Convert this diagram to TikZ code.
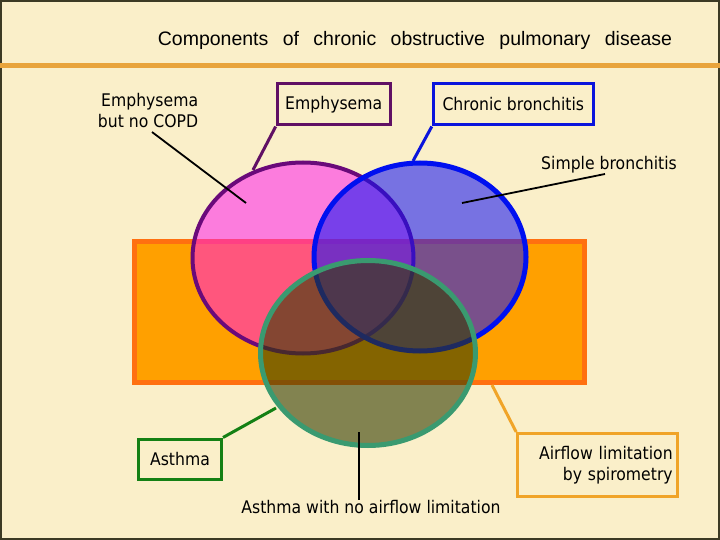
\documentclass[tikz,border=0pt]{standalone}
\usepackage{fontspec}
\setmainfont{DejaVu Sans}[FakeStretch=0.9]
\newfontfamily\titlefont{Liberation Sans}
\usetikzlibrary{shapes.geometric}
\definecolor{bgcream}{RGB}{250,239,201}
\definecolor{framecol}{RGB}{60,58,36}
\definecolor{rulecol}{RGB}{232,164,60}
\definecolor{airfill}{RGB}{255,160,0}
\definecolor{airdraw}{RGB}{255,112,16}
\definecolor{emphfill}{RGB}{255,20,240}
\definecolor{emphdraw}{RGB}{106,10,122}
\definecolor{bronfill}{RGB}{20,20,245}
\definecolor{brondraw}{RGB}{0,16,240}
\definecolor{asthfill}{RGB}{50,60,0}
\definecolor{asthdraw}{RGB}{58,154,112}
\definecolor{boxpurple}{RGB}{96,16,100}
\definecolor{boxblue}{RGB}{10,20,220}
\definecolor{boxgreen}{RGB}{20,128,20}
\definecolor{boxorange}{RGB}{240,164,40}
\tikzset{
  lab/.style={font=\fontsize{17.4}{21}\selectfont, inner sep=0pt, text=black},
  labbox/.style={lab, draw, line width=3pt, minimum height=41pt},
  blob/.style={ellipse, inner sep=0pt},
  lead/.style={black, line width=1.8pt},
}
\begin{document}
\begin{tikzpicture}[x=1pt,y=-1pt]
\useasboundingbox (0,0) rectangle (720,540);
\fill[bgcream] (0,0) rectangle (720,540);
\draw[framecol, line width=2pt] (1,1) rectangle (719,539);
\draw[rulecol, line width=5pt] (0,66) -- (720,66);
\node[font=\titlefont\fontsize{19.5}{22}\selectfont, inner sep=0pt] (title) at (415,40)
  {Components\hspace{9pt} of\hspace{9pt} chronic\hspace{9pt} obstructive\hspace{9pt} pulmonary\hspace{9pt} disease};

% shapes
\node[draw=airdraw, fill=airfill, line width=5pt, minimum width=450pt, minimum height=141pt, inner sep=0pt] (airflow) at (359.5,311.5) {};
\node[blob, draw=emphdraw, fill=emphfill, fill opacity=0.52, draw opacity=1, line width=4pt, minimum width=221pt, minimum height=191pt] (emph) at (303,258) {};
\node[blob, draw=brondraw, fill=bronfill, fill opacity=0.57, draw opacity=1, line width=5pt, minimum width=212pt, minimum height=188pt] (bron) at (420,257) {};
\node[blob, draw=asthdraw, fill=asthfill, fill opacity=0.6, draw opacity=1, line width=5pt, minimum width=215pt, minimum height=185pt] (asth) at (368,353) {};

% labels
\node[lab, align=right] (nocopd) at (148,111) {Emphysema\\but no COPD};
\node[labbox, draw=boxpurple, minimum width=113pt] (emphbox) at (333.7,104.5) {Emphysema};
\node[labbox, draw=boxblue, minimum width=160pt] (bronbox) at (513.3,104.5) {Chronic bronchitis};
\node[lab] (simple) at (609,165) {Simple bronchitis};
\node[labbox, draw=boxgreen, minimum width=83pt, minimum height=40pt] (asthbox) at (180,459) {Asthma};
\node[lab] (noair) at (371,507) {Asthma with no airflow limitation};
\node[lab, draw=boxorange, line width=3pt, minimum width=160pt, minimum height=63pt, align=right, text width=150pt] (airbox) at (597.7,465) {Airflow limitation\\by spirometry};

% connector ends
\coordinate (nocopdEnd) at (246,203);
\coordinate (emphEnd) at (253,170);
\coordinate (bronEnd) at (413,161);
\coordinate (simpleStart) at (605,174);
\coordinate (simpleEnd) at (462,203);
\coordinate (asthEnd) at (276,408);
\coordinate (noairTop) at (359,432);
\coordinate (airStart) at (492,385);

% connectors
\draw[lead] (nocopdEnd) -- (152,132);
\draw[boxpurple, line width=3pt] (emphbox.south west) -- (emphEnd);
\draw[boxblue, line width=3pt] (bronbox.south west) -- (bronEnd);
\draw[lead] (simpleStart) -- (simpleEnd);
\draw[boxgreen, line width=3pt] (asthbox.north east) -- (asthEnd);
\draw[lead] (noairTop) -- (noairTop |- noair.north);
\draw[boxorange, line width=3pt] (airStart) -- (airbox.north west);
\end{tikzpicture}
\end{document}
